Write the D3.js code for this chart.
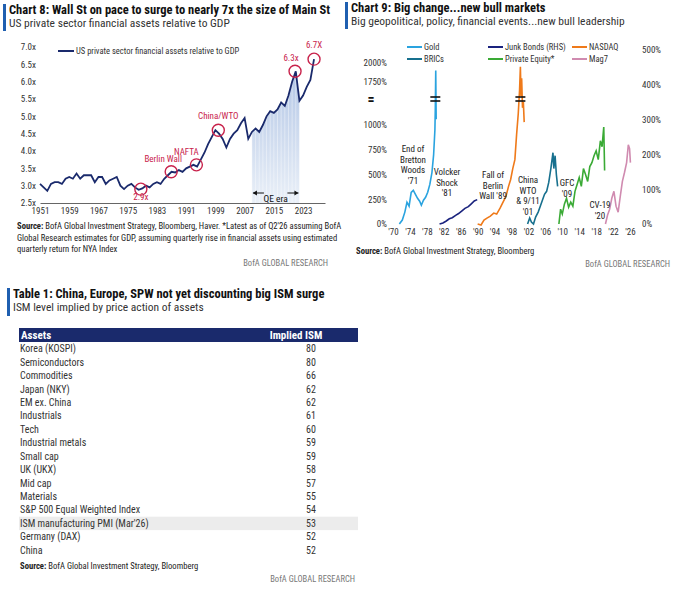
<!DOCTYPE html>
<html><head><meta charset="utf-8">
<script src="https://cdn.jsdelivr.net/npm/d3@7"></script>
<style>
body{margin:0;background:#fff;}
text{font-family:"Liberation Sans Narrow","Roboto Condensed","Roboto",sans-serif;}
</style></head>
<body><svg id="c" width="680" height="589"></svg>
<script>
// ---- chart 8 data
const years8 = [1951,1952,1953,1954,1955,1956,1957,1958,1959,1960,1961,1962,1963,1964,1965,1966,1967,1968,1969,1970,1971,1972,1973,1974,1975,1976,1977,1978,1979,1980,1981,1982,1983,1984,1985,1986,1987,1988,1989,1990,1991,1992,1993,1994,1995,1996,1997,1998,1999,2000,2001,2002,2003,2004,2005,2006,2007,2008,2009,2010,2011,2012,2013,2014,2015,2016,2017,2018,2019,2020,2021,2022,2023,2024,2025,2026];
const ratio8 = [3.05,2.95,2.85,3.05,3.1,3.1,3.05,3.2,3.25,3.2,3.35,3.2,3.3,3.3,3.3,3.1,3.25,3.25,3.05,3.15,3.2,3.25,3.0,2.9,3.0,3.05,2.95,2.88,2.92,3.0,2.95,3.05,3.1,3.05,3.2,3.3,3.4,3.38,3.45,3.4,3.5,3.55,3.6,3.55,3.75,3.95,4.2,4.4,4.6,4.5,4.35,4.1,4.35,4.5,4.6,4.8,4.95,4.35,4.55,4.65,4.55,4.75,5.0,5.15,5.1,5.2,5.4,5.3,5.6,6.0,6.3,5.45,5.6,5.85,6.05,6.65];
const ticks8Y = [2.5,3.0,3.5,4.0,4.5,5.0,5.5,6.0,6.5,7.0];
const ticks8X = [1951,1959,1967,1975,1983,1991,1999,2007,2015,2023];
const events8 = [
  {label:"2.9x", year:1978.6, v:2.9, dx:0, dy:7},
  {label:"Berlin Wall", year:1986.9, v:3.4, dx:-8, dy:-10},
  {label:"NAFTA", year:1993.8, v:3.6, dx:-10, dy:-10},
  {label:"China/WTO", year:1999.8, v:4.6, dx:0, dy:-11},
  {label:"6.3x", year:2020.8, v:6.3, dx:-4, dy:-10},
  {label:"6.7X", year:2026, v:6.65, dx:0, dy:-11}
];
// ---- chart 9 data
const ticks9X = [1970,1974,1978,1982,1986,1990,1994,1998,2002,2006,2010,2014,2018,2022,2026];
const ticks9L = [0,250,500,750,1000,1750,2000];
const ticks9R = [0,100,200,300,400,500];
const goldT = [1971.5,1972.2,1972.8,1973.3,1973.8,1974.3,1974.8,1975.3,1975.8,1976.3,1976.7,1977.2,1977.7,1978.2,1978.7,1979.2,1979.6,1979.9,1980.0,1980.1,1980.2];
const goldV = [0,40,120,220,180,320,340,300,260,230,190,240,270,320,400,520,700,950,1300,1900,1100];
const bricsT = [2001.8,2002.3,2002.7,2003.2,2003.7,2004.3,2004.8,2005.3,2005.8,2006.3,2006.8,2007.3,2007.8,2008.0,2008.3,2008.6,2008.9];
const bricsV = [0,60,20,0,70,120,180,240,300,330,420,560,720,560,690,500,380];
const junkT = [1981,1981.8,1982.5,1983.3,1984,1984.8,1985.5,1986.3,1987,1987.8,1988.5,1989.2,1989.9];
const junkV = [0,3,8,15,18,25,30,38,45,50,58,66,70];
const nasdaqT = [1990,1990.8,1991.5,1992.2,1993,1993.8,1994.5,1995.3,1996,1996.7,1997.3,1997.8,1998.3,1998.8,1999.2,1999.6,1999.9,2000.1,2000.25,2000.4,2000.6,2000.8,2001];
const nasdaqV = [0,-10,40,60,80,110,100,160,220,280,380,450,560,650,900,1200,1600,1950,1500,1800,1300,1400,1050];
const peT = [2009.2,2009.6,2010,2010.5,2011,2011.5,2012,2012.5,2013,2013.5,2014,2014.5,2015,2015.5,2016,2016.5,2017,2017.5,2018,2018.5,2019,2019.4,2019.8,2020];
const peV = [0,150,100,200,260,170,220,180,330,400,470,380,560,500,430,580,620,690,740,650,840,780,980,540];
const mag7T = [2020.2,2020.7,2021.2,2021.7,2022.2,2022.7,2023.2,2023.7,2024.2,2024.7,2025.2,2025.6,2025.9,2026.1];
const mag7V = [0,90,150,260,330,180,120,280,430,520,620,800,760,620];

const svg = d3.select("#c");
const navy = "#1a2a6c", red = "#c8224b", blue = "#1f5fb0";

function header(x, y, t, sub, bh){
  svg.append("rect").attr("x",x).attr("y",y).attr("width",3).attr("height",bh).attr("fill",blue);
  svg.append("text").attr("x",x+6).attr("y",y+10).attr("font-size",12.5).attr("font-weight","bold").attr("fill","#111").text(t);
  svg.append("text").attr("x",x+6).attr("y",y+23).attr("font-size",11.5).attr("fill","#333").text(sub);
}

// ================= Chart 8
header(3, 4, "Chart 8: Wall St on pace to surge to nearly 7x the size of Main St", "US private sector financial assets relative to GDP", 27);
const x8 = d3.scaleLinear().domain([1951,2029]).range([40,325]);
const y8 = d3.scaleLinear().domain([2.5,7.0]).range([203,47]);
const g8 = svg.append("g");
const pts8 = years8.map((y,i)=>[y, ratio8[i]]);

const defs = svg.append("defs");
const grad = defs.append("linearGradient").attr("id","qe").attr("x1",0).attr("x2",0).attr("y1",0).attr("y2",1);
grad.append("stop").attr("offset","0%").attr("stop-color","#b4c7e6");
grad.append("stop").attr("offset","100%").attr("stop-color","#eaf0f8");
const qePts = pts8.filter(d=>d[0]>=2009 && d[0]<=2022);
g8.append("path").datum(qePts)
  .attr("d", d3.area().x(d=>x8(d[0])).y0(y8(2.5)).y1(d=>y8(d[1])))
  .attr("fill","url(#qe)");
// faint vertical stripes in shading
qePts.forEach(d=>g8.append("line").attr("x1",x8(d[0])).attr("x2",x8(d[0])).attr("y1",y8(d[1])).attr("y2",y8(2.5)).attr("stroke","#fff").attr("stroke-opacity",0.5).attr("stroke-width",0.8));

g8.append("g").attr("transform","translate(0,203)")
  .call(d3.axisBottom(x8).tickValues(ticks8X).tickFormat(d3.format("d")).tickSize(0).tickPadding(5))
  .call(g=>g.select(".domain").attr("stroke","#666"))
  .call(g=>g.selectAll("text").attr("font-size",9).attr("fill","#333"));
g8.append("g").attr("transform","translate(38,0)")
  .call(d3.axisLeft(y8).tickValues(ticks8Y).tickFormat(d=>d3.format(".1f")(d)+"x").tickSize(0).tickPadding(2))
  .call(g=>g.select(".domain").remove())
  .call(g=>g.selectAll("text").attr("font-size",9).attr("fill","#333"));

g8.append("path").datum(pts8).attr("fill","none").attr("stroke",navy).attr("stroke-width",1.8)
  .attr("d", d3.line().x(d=>x8(d[0])).y(d=>y8(d[1])));

// QE era
const qa = x8(2009), qb = x8(2022);
g8.append("line").attr("x1",qa+1).attr("x2",qa+12).attr("y1",193).attr("y2",193).attr("stroke","#111");
g8.append("line").attr("x1",qb-12).attr("x2",qb-1).attr("y1",193).attr("y2",193).attr("stroke","#111");
g8.append("path").attr("d",`M${qa+1},193l4,-2.5v5z`).attr("fill","#111");
g8.append("path").attr("d",`M${qb-1},193l-4,-2.5v5z`).attr("fill","#111");
g8.append("text").attr("x",(qa+qb)/2).attr("y",202).attr("text-anchor","middle").attr("font-size",9.5).attr("fill","#111").text("QE era");

events8.forEach(e=>{
  g8.append("circle").attr("cx",x8(e.year)).attr("cy",y8(e.v)).attr("r",6).attr("fill","none").attr("stroke",red).attr("stroke-width",1.4);
  g8.append("text").attr("x",x8(e.year)+e.dx).attr("y",y8(e.v)+e.dy+(e.dy>0?4:0)).attr("text-anchor","middle")
    .attr("font-size",9).attr("fill",red).text(e.label);
});
g8.append("line").attr("x1",58).attr("x2",74).attr("y1",51).attr("y2",51).attr("stroke",navy).attr("stroke-width",2);
g8.append("text").attr("x",76).attr("y",54).attr("font-size",8.5).attr("fill","#333").text("US private sector financial assets relative to GDP");

const src8 = ["Source: BofA Global Investment Strategy, Bloomberg, Haver. *Latest as of Q2'26 assuming BofA",
  "Global Research estimates for GDP, assuming quarterly rise in financial assets using estimated",
  "quarterly return for NYA Index"];
src8.forEach((s,i)=>{
  const t = svg.append("text").attr("x",17).attr("y",229+i*11.5).attr("font-size",8.6).attr("fill","#222");
  if(i===0){ t.append("tspan").attr("font-weight","bold").text("Source:"); t.append("tspan").text(s.slice(7)); }
  else t.text(s);
});
svg.append("text").attr("x",328).attr("y",266).attr("text-anchor","end").attr("font-size",8.5).attr("fill","#777").text("BofA GLOBAL RESEARCH");

// ================= Chart 9
header(345, 2, "Chart 9: Big change...new bull markets", "Big geopolitical, policy, financial events...new bull leadership", 27);
const x9 = d3.scaleLinear().domain([1970,2026]).range([393,630]);
const yL = d3.scaleLinear().domain([0,1000,1750,2000]).range([224,125,82,63]);
const yR = d3.scaleLinear().domain([0,500]).range([224,50]);
const g9 = svg.append("g");
g9.append("g").attr("transform","translate(0,226)")
  .call(d3.axisBottom(x9).tickValues(ticks9X).tickFormat(d=>"'"+String(d).slice(2)).tickSize(0).tickPadding(3))
  .call(g=>g.select(".domain").remove())
  .call(g=>g.selectAll("text").attr("font-size",9).attr("fill","#333"));
g9.append("g").attr("transform","translate(387,0)")
  .call(d3.axisLeft(yL).tickValues(ticks9L).tickFormat(d=>d+"%").tickSize(0).tickPadding(0))
  .call(g=>g.select(".domain").remove())
  .call(g=>g.selectAll("text").attr("font-size",9).attr("fill","#333"));
g9.append("g").attr("transform","translate(642,0)")
  .call(d3.axisRight(yR).tickValues(ticks9R).tickFormat(d=>d+"%").tickSize(0).tickPadding(0))
  .call(g=>g.select(".domain").remove())
  .call(g=>g.selectAll("text").attr("font-size",9).attr("fill","#333"));
g9.append("text").attr("x",371).attr("y",104).attr("text-anchor","middle").attr("font-size",14).attr("font-weight","bold").attr("fill","#111").text("=");

const series9 = [
  {t:goldT, v:goldV, c:"#2aa3df", s:yL},
  {t:bricsT, v:bricsV, c:"#17708e", s:yL},
  {t:junkT, v:junkV, c:"#1a237e", s:yR},
  {t:nasdaqT, v:nasdaqV, c:"#ef7a1a", s:yL},
  {t:peT, v:peV, c:"#3aaa35", s:yL},
  {t:mag7T, v:mag7V, c:"#d08bb0", s:yL}
];
series9.forEach(se=>{
  g9.append("path").datum(se.t.map((t,i)=>[t,se.v[i]])).attr("fill","none").attr("stroke",se.c).attr("stroke-width",1.6)
    .attr("d", d3.line().x(d=>x9(d[0])).y(d=>se.s(d[1])));
});
// scale-break marks
[[1980.0],[2000.1]].forEach(([yr])=>{
  [97,101].forEach(yy=>g9.append("line").attr("x1",x9(yr)-5).attr("x2",x9(yr)+5).attr("y1",yy).attr("y2",yy).attr("stroke","#111").attr("stroke-width",1.6));
});

const legend9 = [
  {n:"Gold",c:"#2aa3df",x:407,y:47},{n:"BRICs",c:"#17708e",x:407,y:59},
  {n:"Junk Bonds (RHS)",c:"#1a237e",x:488,y:47},{n:"Private Equity*",c:"#3aaa35",x:488,y:59},
  {n:"NASDAQ",c:"#ef7a1a",x:572,y:47},{n:"Mag7",c:"#d08bb0",x:572,y:59}
];
legend9.forEach(l=>{
  g9.append("line").attr("x1",l.x).attr("x2",l.x+15).attr("y1",l.y).attr("y2",l.y).attr("stroke",l.c).attr("stroke-width",2);
  g9.append("text").attr("x",l.x+17).attr("y",l.y+3).attr("font-size",8.5).attr("fill","#333").text(l.n);
});
const notes9 = [
  {x:413,y:152,l:["End of","Bretton","Woods","'71"]},
  {x:447,y:175,l:["Volcker","Shock","'81"]},
  {x:493,y:178,l:["Fall of","Berlin","Wall '89"]},
  {x:528,y:183,l:["China","WTO","& 9/11","'01"]},
  {x:567,y:186,l:["GFC","'09"]},
  {x:600,y:208,l:["CV-19","'20"]}
];
notes9.forEach(n=>n.l.forEach((s,i)=>g9.append("text").attr("x",n.x).attr("y",n.y+i*10.5).attr("text-anchor","middle").attr("font-size",9).attr("fill","#222").text(s)));
const s9 = svg.append("text").attr("x",356).attr("y",254).attr("font-size",8.6).attr("fill","#222");
s9.append("tspan").attr("font-weight","bold").text("Source:"); s9.append("tspan").text(" BofA Global Investment Strategy, Bloomberg");
svg.append("text").attr("x",670).attr("y",267).attr("text-anchor","end").attr("font-size",8.5).attr("fill","#777").text("BofA GLOBAL RESEARCH");

// ================= Table 1
const assets = ["Korea (KOSPI)","Semiconductors","Commodities","Japan (NKY)","EM ex. China","Industrials","Tech","Industrial metals","Small cap","UK (UKX)","Mid cap","Materials","S&P 500 Equal Weighted Index","ISM manufacturing PMI (Mar'26)","Germany (DAX)","China"];
const implied = [80,80,66,62,62,61,60,59,59,58,57,55,54,53,52,52];
header(7, 288, "Table 1: China, Europe, SPW not yet discounting big ISM surge", "ISM level implied by price action of assets", 28);
const yT = d3.scaleBand().domain(assets).range([342,557]);
svg.append("rect").attr("x",19).attr("y",328).attr("width",339).attr("height",14).attr("fill",navy);
svg.append("text").attr("x",21).attr("y",339).attr("font-size",11).attr("font-weight","bold").attr("fill","#fff").text("Assets");
svg.append("text").attr("x",296).attr("y",339).attr("text-anchor","middle").attr("font-size",11).attr("font-weight","bold").attr("fill","#fff").text("Implied ISM");
svg.append("rect").attr("x",19).attr("y",yT("ISM manufacturing PMI (Mar'26)")).attr("width",339).attr("height",yT.bandwidth()).attr("fill","#ececec");
assets.forEach((a,i)=>{
  const yy = yT(a)+yT.bandwidth()/2+3.5;
  svg.append("text").attr("x",20).attr("y",yy).attr("font-size",10).attr("fill","#333").text(a);
  svg.append("text").attr("x",311).attr("y",yy).attr("text-anchor","middle").attr("font-size",10).attr("fill","#333").text(implied[i]);
});
const sT = svg.append("text").attr("x",20).attr("y",569).attr("font-size",8.6).attr("fill","#222");
sT.append("tspan").attr("font-weight","bold").text("Source:"); sT.append("tspan").text(" BofA Global Investment Strategy, Bloomberg");
svg.append("text").attr("x",355).attr("y",582).attr("text-anchor","end").attr("font-size",8.5).attr("fill","#777").text("BofA GLOBAL RESEARCH");
</script></body></html>
